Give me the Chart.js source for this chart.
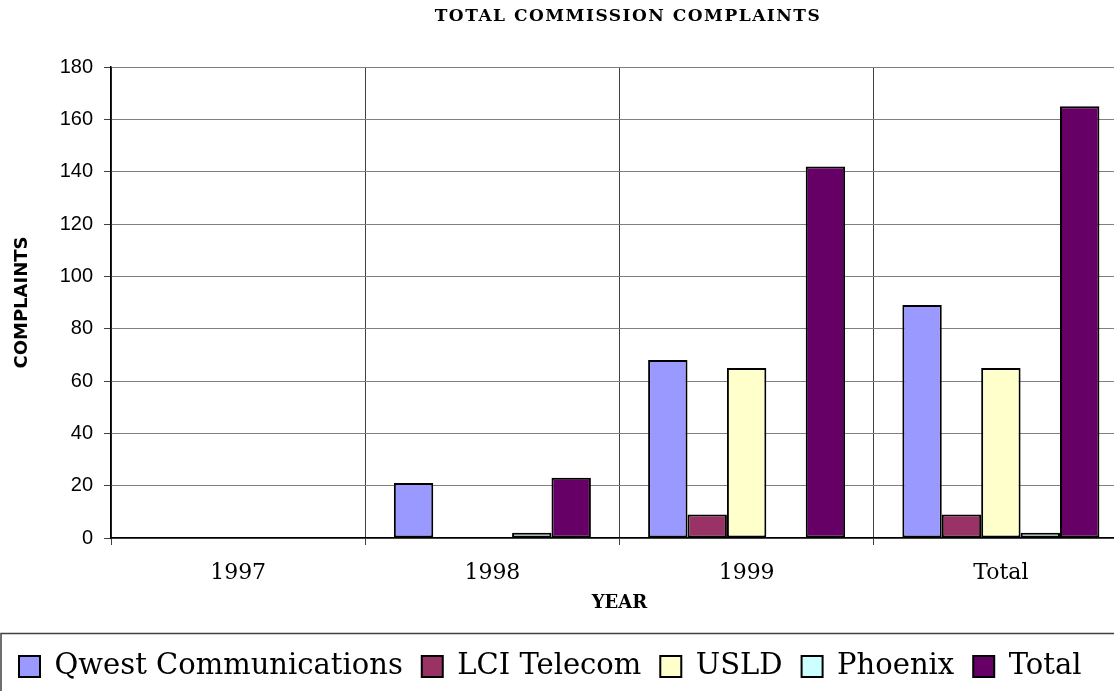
<!DOCTYPE html>
<html>
<head>
<meta charset="utf-8">
<script src="https://cdn.jsdelivr.net/npm/chart.js@4"></script>
<style>
  html, body { margin: 0; padding: 0; background: #fff; overflow: hidden; }
  #wrap { width: 1114px; height: 691px; overflow: hidden; }
  #box { width: 1256px; height: 691px; }
</style>
</head>
<body>
<div id="wrap"><div id="box"><canvas id="chart"></canvas></div></div>
<script>
// values
const categories = ['1997', '1998', '1999', 'Total'];
const qwest = [0, 21, 68, 89];
const lciTelecom = [0, 0, 9, 9];
const usld = [0, 0, 65, 65];
const phoenix = [0, 2, 0, 2];
const totals = [0, 23, 142, 165];
const seriesNames = ['Qwest Communications', 'LCI Telecom', 'USLD', 'Phoenix', 'Total'];
const seriesColors = ['#9999FF', '#993366', '#FFFFCC', '#CCFFFF', '#660066'];
const chartTitle = 'TOTAL COMMISSION COMPLAINTS';
const yMax = 180;
const yStep = 20;

const serif = "'DejaVu Serif', serif";

function bar(i, values) {
    return {
        label: seriesNames[i],
        data: values,
        backgroundColor: seriesColors[i],
        borderColor: '#000',
        borderWidth: 2,
        borderSkipped: false,
        barPercentage: 1,
        categoryPercentage: 0.775
    };
}

// title centred on the whole (partly cut off) chart, and a box round the legend
const decor = {
    id: 'decor',
    afterDraw(chart) {
        const ctx = chart.ctx;
        ctx.save();
        ctx.fillStyle = '#000';
        ctx.font = "bold 17px 'DejaVu Serif', serif";
        ctx.letterSpacing = '1.5px';
        ctx.textAlign = 'center';
        ctx.textBaseline = 'middle';
        ctx.fillText(chartTitle, chart.width / 2, 17);
        ctx.letterSpacing = '0px';

        const lg = chart.legend;
        ctx.strokeStyle = '#404040';
        ctx.lineWidth = 1.5;
        ctx.strokeRect(1, lg.top + 0.5, 1200, lg.height + 10);
        ctx.restore();
    }
};

new Chart(document.getElementById('chart'), {
    type: 'bar',
    data: {
        labels: categories,
        datasets: [
            bar(0, qwest),
            bar(1, lciTelecom),
            bar(2, usld),
            bar(3, phoenix),
            bar(4, totals)
        ]
    },
    options: {
        responsive: true,
        maintainAspectRatio: false,
        animation: false,
        layout: { padding: { left: 0, right: 128, top: 67, bottom: 0 } },
        plugins: {
            title: { display: false },
            legend: {
                position: 'bottom',
                align: 'start',
                labels: {
                    color: '#000',
                    font: { family: serif, size: 29 },
                    boxWidth: 21,
                    boxHeight: 21,
                    padding: 19
                }
            },
            tooltip: { enabled: false }
        },
        scales: {
            x: {
                afterFit(s) { s.height = 95; },
                grid: { color: '#404040', lineWidth: 1, tickLength: 7, tickColor: '#404040' },
                border: { color: '#000', width: 1.5 },
                ticks: { color: '#000', font: { family: serif, size: 22 }, padding: 15 },
                title: {
                    display: true,
                    text: 'YEAR',
                    color: '#000',
                    font: { family: serif, size: 18, weight: 'bold' },
                    padding: { top: 6, bottom: 19 }
                }
            },
            y: {
                min: 0,
                max: yMax,
                afterFit(s) { s.width = 111; },
                grid: { color: '#808080', lineWidth: 1, tickLength: 7, tickColor: '#404040' },
                border: { color: '#000', width: 1.5 },
                ticks: {
                    stepSize: yStep,
                    color: '#000',
                    font: { family: "'Liberation Sans', Arial, sans-serif", size: 20 },
                    padding: 11
                },
                title: {
                    display: true,
                    text: 'COMPLAINTS',
                    color: '#000',
                    font: { family: "'DejaVu Sans', sans-serif", size: 18, weight: 'bold' },
                    padding: { top: 12, bottom: 0 }
                }
            }
        }
    },
    plugins: [decor]
});
</script>
</body>
</html>
